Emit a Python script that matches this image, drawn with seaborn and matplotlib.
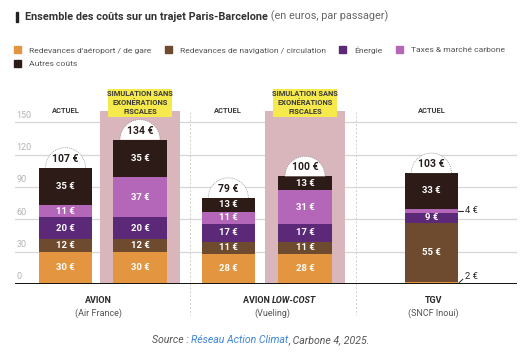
# -*- coding: utf-8 -*-
import numpy as np
import matplotlib
matplotlib.use("Agg")
import matplotlib.pyplot as plt
from matplotlib.patches import Rectangle
import seaborn as sns

# data (euros per passenger)
bars = ["Air France actuel", "Air France simulation", "Vueling actuel", "Vueling simulation", "TGV actuel"]
aeroport = [30, 30, 28, 28, 2]
navigation = [12, 12, 11, 11, 55]
energie = [20, 20, 17, 17, 9]
taxes = [11, 37, 11, 31, 4]
autres = [35, 35, 13, 13, 33]
totals = [107, 134, 79, 100, 103]
simulation = [False, True, False, True, False]
series_names = ["Redevances d'aéroport / de gare", "Redevances de navigation / circulation",
                "Énergie", "Taxes & marché carbone", "Autres coûts"]
groups = ["AVION", "AVION LOW-COST", "TGV"]
operators = ["(Air France)", "(Vueling)", "(SNCF Inoui)"]
y_ticks = [0, 30, 60, 90, 120, 150]

# layout
xpos = [0, 1.393, 3.043, 4.477, 6.838]
group_x = [0.617, 3.869, 6.88]
sep_x = [2.327, 5.430]
bar_w = 1.0
colors = ["#E3953F", "#6E4A2E", "#5B2977", "#B466B8", "#2C1B17"]
text_dark = "#2a2a2a"

sns.set_style("white")
plt.rcParams["font.family"] = ["Roboto", "DejaVu Sans"]

fig = plt.figure(figsize=(5.23, 3.52), dpi=100)
ax = fig.add_axes([15 / 523, 68 / 352, 502 / 523, 199 / 352])
x_left, x_right = -0.944, 8.439

# grid and y labels
for v in y_ticks[1:]:
    ax.plot([x_left, x_right], [v, v], color="#d6d6d6", lw=0.9, zorder=0.5)
for v in y_ticks:
    ax.text(x_left + 0.03, v + 2.5, str(v), color="#b3b3b3", fontsize=6.5, va="bottom", ha="left")

# pink backgrounds + yellow labels for the simulations
for i, sim in enumerate(simulation):
    if sim:
        ax.add_patch(Rectangle((xpos[i] - 0.74, 0), 1.48, 160.7, color="#D9B6BB", zorder=1, lw=0))
        ax.add_patch(Rectangle((xpos[i] - 0.6, 154.8), 1.2, 26.3, color="#F6E94B", zorder=2, lw=0))
        ax.text(xpos[i], 168, "SIMULATION SANS\nEXONÉRATIONS\nFISCALES", ha="center", va="center",
                fontsize=5.4, fontweight="bold", color="#3a3a3a", linespacing=1.2, zorder=3)
    else:
        ax.text(xpos[i], 160.7, "ACTUEL", ha="center", va="center", fontsize=5.4,
                fontweight="bold", color="#3a3a3a", zorder=3)

# stacked bars: draw cumulative totals from the top layer down
layers = [aeroport, navigation, energie, taxes, autres]
cum = np.cumsum(layers, axis=0)
wrel = bar_w / np.diff(xpos).min()
for i in reversed(range(len(layers))):
    sns.barplot(x=xpos, y=cum[i], color=colors[i], native_scale=True, width=wrel,
                errorbar=None, orient="x", saturation=1, linewidth=0, ax=ax, zorder=3)

# segment labels
for b in range(len(bars)):
    bottom = 0
    for i in range(len(layers)):
        v = layers[i][b]
        mid = bottom + v / 2
        if v >= 8:
            ax.text(xpos[b], mid, f"{v} €", ha="center", va="center", color="white",
                    fontsize=6.8, fontweight="bold", zorder=6)
        bottom += v

# small TGV segments labelled outside
tgv = 4
edge = xpos[tgv] + bar_w / 2
y4 = aeroport[tgv] + navigation[tgv] + energie[tgv] + taxes[tgv] / 2
ax.plot([edge, edge + 0.1], [y4, y4], color=text_dark, lw=0.8, zorder=6)
ax.text(edge + 0.13, y4, f"{taxes[tgv]} €", ha="left", va="center", fontsize=6.8, color=text_dark)
ax.plot([edge + 0.01, edge + 0.09], [0.8, 4.5], color=text_dark, lw=0.7, zorder=6, clip_on=False)
ax.text(edge + 0.12, 6.8, f"{aeroport[tgv]} €", ha="left", va="center", fontsize=6.8, color=text_dark)

# total bubbles
t = np.linspace(0, np.pi, 60)
rx, ry = 0.374, 18.6
for b in range(len(bars)):
    top = cum[-1][b]
    ax.fill(xpos[b] + rx * np.cos(t), top + ry * np.sin(t), color="white", zorder=4, lw=0)
    ax.plot(xpos[b] + rx * np.cos(t), top + ry * np.sin(t), color="#8a8a8a", lw=0.5,
            ls=(0, (1.5, 1.5)), zorder=5)
    ax.text(xpos[b], top + 8.5, f"{totals[b]} €", ha="center", va="center", fontsize=7.5,
            fontweight="bold", color="#2a1d1d", zorder=6)

# baseline and separators
ax.plot([x_left, x_right], [0, 0], color="#111111", lw=1.4, zorder=7, solid_capstyle="butt")
for sx in sep_x:
    ax.plot([sx, sx], [159.7, -29], color="#cfcfcf", lw=0.7, ls=(0, (2, 2)), zorder=0.5, clip_on=False)

# group labels
for gx, g, op in zip(group_x, groups, operators):
    if g == "AVION LOW-COST":
        ax.text(gx - 0.01, -14.9, "AVION ", ha="right", va="center", fontsize=6.5,
                fontweight="bold", color=text_dark, clip_on=False)
        ax.text(gx - 0.01, -14.9, "LOW-COST", ha="left", va="center", fontsize=6.5,
                fontweight="bold", fontstyle="italic", color=text_dark, clip_on=False)
    else:
        ax.text(gx, -14.9, g, ha="center", va="center", fontsize=6.5, fontweight="bold",
                color=text_dark, clip_on=False)
    ax.text(gx, -26.9, op, ha="center", va="center", fontsize=6.5, color="#555555", clip_on=False)

ax.set_xlim(x_left, x_right)
ax.set_ylim(0, 184.8)
ax.set_axis_off()

# title
fig.add_artist(Rectangle((15.5 / 523, 1 - 21.7 / 352), 2 / 523, 9.7 / 352,
                         transform=fig.transFigure, color="#222222"))
t1 = fig.text(25 / 523, 1 - 16.5 / 352, "Ensemble des coûts sur un trajet Paris-Barcelone",
              fontsize=7.8, fontweight="bold", color="#333333", va="center")
ax.annotate(" (en euros, par passager)", xy=(1, 0), xycoords=t1, va="bottom", ha="left",
            fontsize=7.8, color="#666666", annotation_clip=False)

# legend
handles = [Rectangle((0, 0), 1, 1, color=c) for c in colors]
order = [0, 4, 1, 2, 3]
fig.legend([handles[i] for i in order], [series_names[i] for i in order], ncol=4,
           loc="upper left", bbox_to_anchor=(14 / 523, 1 - 46 / 352), frameon=False,
           fontsize=6.1, handlelength=0.84, handleheight=0.84, handletextpad=0.96,
           columnspacing=1.55, labelspacing=0.75, borderpad=0, borderaxespad=0,
           labelcolor="#555555")

# source
s1 = fig.text(152 / 523, 1 - 340 / 352, "Source : ", fontsize=7.6, fontstyle="italic",
              color="#555555", va="center")
s2 = ax.annotate("Réseau Action Climat", xy=(1, 0), xycoords=s1, va="bottom", ha="left",
                 fontsize=7.6, fontstyle="italic", color="#3d85d8", annotation_clip=False)
ax.annotate(", Carbone 4, 2025.", xy=(1, 0), xycoords=s2, va="bottom", ha="left",
            fontsize=7.6, fontstyle="italic", color="#555555", annotation_clip=False)

fig.savefig("out.png", dpi=100)
